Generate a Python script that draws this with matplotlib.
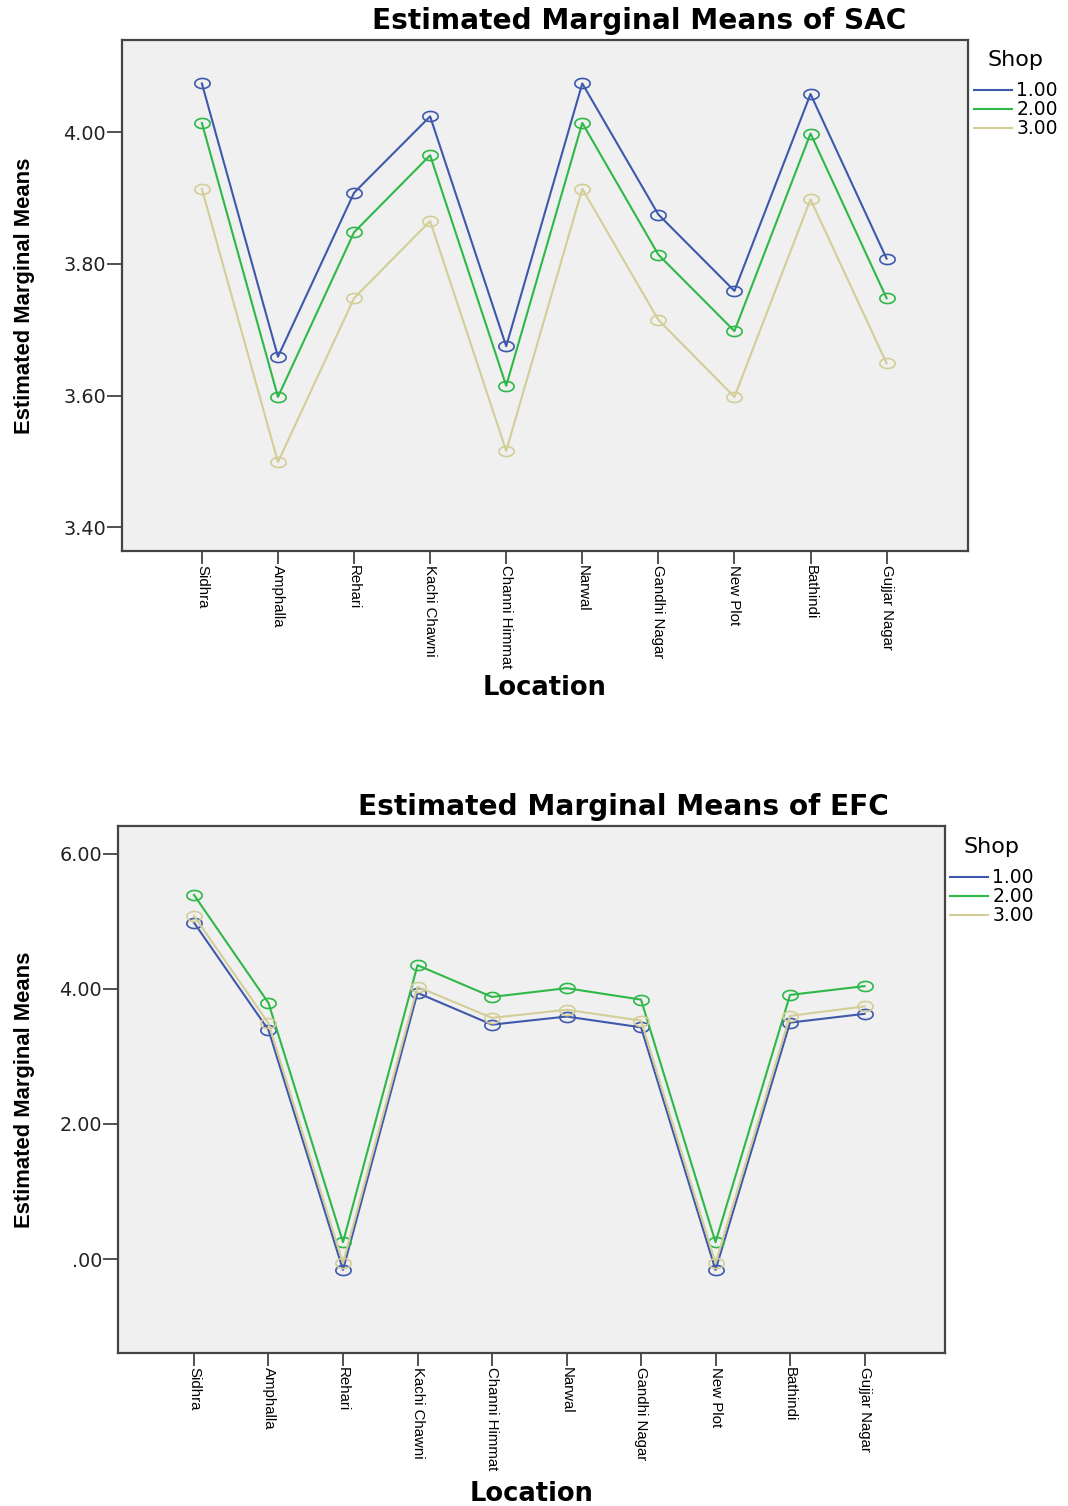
import matplotlib
matplotlib.use("Agg")
import matplotlib.pyplot as plt
import numpy as np
from matplotlib.path import Path

locations = ["Sidhra", "Amphalla", "Rehari", "Kachi Chawni", "Channi Himmat",
             "Narwal", "Gandhi Nagar", "New Plot", "Bathindi", "Gujjar Nagar"]
shops = ["1.00", "2.00", "3.00"]
colors = ["#3e58ac", "#2eb848", "#d3ce97"]

# SAC estimated marginal means, one list per shop
sac_shop1 = [4.074, 3.659, 3.908, 4.024, 3.675, 4.074, 3.875, 3.759, 4.058, 3.808]
sac_shop2 = [4.014, 3.598, 3.848, 3.965, 3.615, 4.014, 3.814, 3.698, 3.998, 3.748]
sac_shop3 = [3.914, 3.499, 3.748, 3.865, 3.516, 3.914, 3.715, 3.598, 3.898, 3.649]

# EFC estimated marginal means
efc_shop1 = [4.98, 3.39, -0.16, 3.94, 3.47, 3.59, 3.43, -0.16, 3.50, 3.63]
efc_shop2 = [5.39, 3.79, 0.25, 4.35, 3.88, 4.01, 3.84, 0.25, 3.91, 4.04]
efc_shop3 = [5.08, 3.49, -0.06, 4.03, 3.57, 3.69, 3.53, -0.06, 3.60, 3.74]

sac_ticks = [3.40, 3.60, 3.80, 4.00]
sac_ticklabels = ["3.40", "3.60", "3.80", "4.00"]
efc_ticks = [0, 2, 4, 6]
efc_ticklabels = [".00", "2.00", "4.00", "6.00"]

narrow = "Liberation Sans"

# ellipse shaped open marker (the SPSS export is stretched sideways)
t = np.linspace(0, 2 * np.pi, 60)
ell = Path(np.column_stack([np.cos(t), 0.66 * np.sin(t)]))

fig = plt.figure(figsize=(10.68, 15.06), dpi=100)


def panel(rect, series, ticks, ticklabels, ylim, xlim, title, title_xy, leg_xy, ylab_x, xlab_y):
    ax = fig.add_axes(rect)
    ax.set_facecolor("#f0f0f0")
    x = np.arange(len(locations))
    for vals, c, lab in zip(series, colors, shops):
        ax.plot(x, vals, color=c, lw=1.5, marker=ell, ms=11, mfc="none",
                mec=c, mew=1.2, label=lab)
    ax.set_xlim(xlim)
    ax.set_ylim(ylim)
    ax.set_yticks(ticks)
    ax.set_yticklabels(ticklabels, fontsize=13.8, color="#222222")
    ax.set_xticks(x)
    ax.set_xticklabels(locations, rotation=270, fontsize=10.8, family=narrow,
                       va="top", ha="center")
    ax.tick_params(axis="both", direction="out", length=9, width=1.2, color="#333333")
    ax.tick_params(axis="x", pad=1)
    ax.tick_params(axis="y", length=10.5, pad=1)
    for s in ax.spines.values():
        s.set_linewidth(1.6)
        s.set_color("#444444")
    fig.text(title_xy[0], title_xy[1], title, ha="center", va="center",
             fontsize=20.2, fontweight="bold")
    fig.text(ylab_x, rect[1] + rect[3] * 0.5, "Estimated Marginal Means", rotation=90,
             ha="center", va="center", fontsize=15.8, fontweight="bold", family=narrow)
    fig.text(rect[0] + rect[2] / 2, xlab_y, "Location", ha="center", va="center",
             fontsize=18.5, fontweight="bold")
    leg = ax.legend(title="Shop", loc="upper left", bbox_to_anchor=leg_xy,
                    bbox_transform=fig.transFigure, frameon=False, fontsize=13.5,
                    title_fontsize=16, handlelength=2.0, handletextpad=0.25,
                    labelspacing=0.0, borderpad=0, borderaxespad=0)
    leg._legend_box.sep = 8
    for h in leg.legend_handles:
        h.set_marker("")
    return ax


W, H = 1068.0, 1506.0

panel([122 / W, 1 - 551 / H, 846 / W, 511 / H],
      [sac_shop1, sac_shop2, sac_shop3], sac_ticks, sac_ticklabels,
      (3.364, 4.140), (-1.05, 10.07), "Estimated Marginal Means of SAC",
      (639 / W, 1 - 21 / H), (974 / W, 1 - 50 / H), 25 / W, 1 - 688 / H)

panel([118 / W, 1 - 1353 / H, 827 / W, 527 / H],
      [efc_shop1, efc_shop2, efc_shop3], efc_ticks, efc_ticklabels,
      (-1.39, 6.41), (-1.02, 10.08), "Estimated Marginal Means of EFC",
      (623 / W, 1 - 807 / H), (950 / W, 1 - 837 / H), 25 / W, 1 - 1494 / H)

fig.savefig("out.png", dpi=100, facecolor="white")
